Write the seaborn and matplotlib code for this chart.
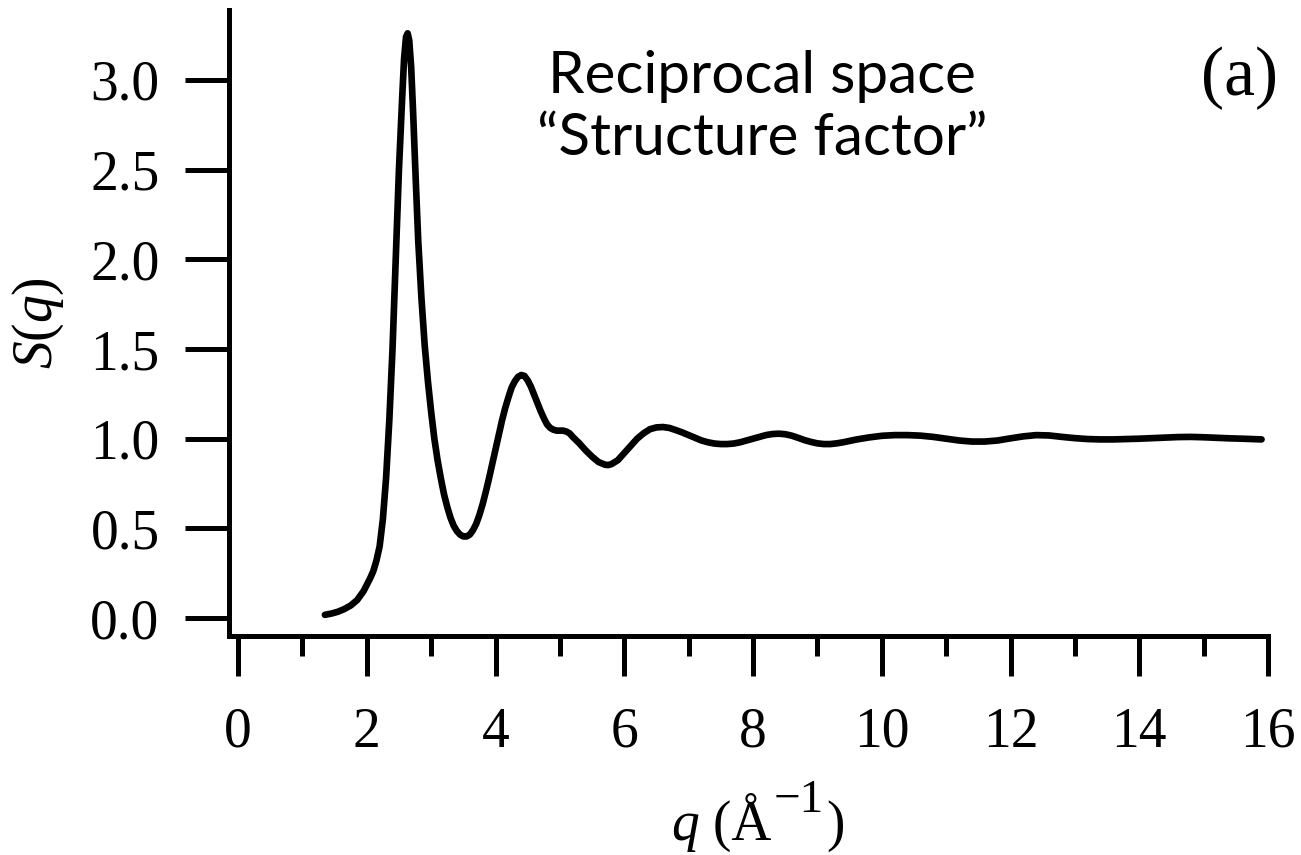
import matplotlib
matplotlib.use("Agg")
import matplotlib.pyplot as plt
import seaborn as sns
import pandas as pd
from matplotlib.ticker import MultipleLocator

# ---- data ----
q_values = [1.35, 1.45, 1.55, 1.65, 1.75, 1.85, 1.95, 2.05, 2.1, 2.15,
            2.2, 2.25, 2.3, 2.35, 2.4, 2.45, 2.5, 2.55, 2.58, 2.61, 2.635, 2.66, 2.69,
            2.72, 2.76, 2.8, 2.85, 2.9, 2.95, 3.0, 3.05, 3.1, 3.15, 3.2, 3.25, 3.3,
            3.35, 3.4, 3.45, 3.5, 3.55, 3.6, 3.65, 3.7, 3.75, 3.8, 3.85, 3.9, 3.95,
            4.0, 4.05, 4.1, 4.15, 4.2, 4.25, 4.3, 4.35, 4.4, 4.45, 4.5, 4.55, 4.6,
            4.65, 4.7, 4.75, 4.8, 4.85, 4.9, 4.95, 5.0, 5.05, 5.1, 5.15, 5.2, 5.3,
            5.4, 5.5, 5.6, 5.7, 5.75, 5.8, 5.9, 6.0, 6.1, 6.2, 6.3, 6.4, 6.5, 6.6,
            6.7, 6.8, 6.9, 7.0, 7.1, 7.2, 7.3, 7.4, 7.5, 7.6, 7.7, 7.8, 7.9, 8.0,
            8.1, 8.2, 8.3, 8.4, 8.5, 8.6, 8.7, 8.8, 8.9, 9.0, 9.1, 9.2, 9.3, 9.4,
            9.6, 9.8, 10.0, 10.2, 10.4, 10.6, 10.8, 11.0, 11.2, 11.4, 11.6, 11.8,
            12.0, 12.2, 12.4, 12.6, 12.8, 13.0, 13.2, 13.4, 13.6, 13.8, 14.0, 14.2,
            14.4, 14.6, 14.8, 15.0, 15.2, 15.4, 15.6, 15.9]
s_values = [0.018, 0.025, 0.035, 0.05, 0.07, 0.10, 0.15, 0.22, 0.26, 0.32,
            0.40, 0.55, 0.78, 1.10, 1.50, 2.00, 2.50, 2.90, 3.12, 3.24, 3.26, 3.22, 3.07,
            2.82, 2.45, 2.10, 1.78, 1.52, 1.32, 1.15, 1.00, 0.88, 0.78, 0.69, 0.62, 0.56,
            0.515, 0.485, 0.465, 0.455, 0.455, 0.465, 0.49, 0.525, 0.575, 0.635, 0.705, 0.78, 0.86,
            0.94, 1.02, 1.10, 1.17, 1.23, 1.285, 1.32, 1.345, 1.355, 1.35, 1.325, 1.29, 1.245,
            1.20, 1.155, 1.115, 1.08, 1.06, 1.05, 1.045, 1.045, 1.045, 1.04, 1.03, 1.01, 0.975,
            0.935, 0.90, 0.87, 0.855, 0.853, 0.858, 0.88, 0.92, 0.96, 1.00, 1.03, 1.053, 1.063, 1.065,
            1.06, 1.048, 1.035, 1.02, 1.005, 0.99, 0.98, 0.973, 0.97, 0.97, 0.973, 0.98, 0.99, 1.00,
            1.01, 1.02, 1.026, 1.028, 1.025, 1.017, 1.005, 0.992, 0.982, 0.974, 0.97, 0.97, 0.974, 0.98,
            0.995, 1.007, 1.016, 1.02, 1.02, 1.017, 1.01, 1.00, 0.99, 0.984, 0.984, 0.99,
            1.002, 1.013, 1.02, 1.018, 1.01, 1.003, 0.998, 0.996, 0.996, 0.998, 1.00, 1.003,
            1.006, 1.009, 1.01, 1.008, 1.005, 1.002, 1.00, 0.996]
x_ticks = [0, 2, 4, 6, 8, 10, 12, 14, 16]
y_ticks = [0.0, 0.5, 1.0, 1.5, 2.0, 2.5, 3.0]
y_tick_labels = ["0.0", "0.5", "1.0", "1.5", "2.0", "2.5", "3.0"]
title_lines = ["Reciprocal space", "\u201cStructure factor\u201d"]
panel_label = "(a)"
x_label_parts = ["q", " (Å", "\u22121", ")"]
y_label = r"$S(q)$"

df = pd.DataFrame({"q": q_values, "S": s_values})

sns.set_theme(style="white")
plt.rcParams["font.family"] = ["Liberation Serif", "DejaVu Serif"]
plt.rcParams["mathtext.fontset"] = "custom"
plt.rcParams["mathtext.rm"] = "Liberation Serif"
plt.rcParams["mathtext.it"] = "Liberation Serif:italic"
plt.rcParams["text.color"] = "black"
plt.rcParams["axes.labelcolor"] = "black"
plt.rcParams["xtick.color"] = "black"
plt.rcParams["ytick.color"] = "black"

W, H = 1301, 855
fig = plt.figure(figsize=(W / 100, H / 100), dpi=100)
ax = fig.add_axes([229 / W, 1 - 636 / H, (1268 - 229) / W, (636 - 10) / H])

sns.lineplot(data=df, x="q", y="S", ax=ax, color="black", linewidth=4.8, sort=False)

ax.set_xlim(-0.14, 16)
ax.set_ylim(-0.1, 3.39)

for side in ["top", "right"]:
    ax.spines[side].set_visible(False)
for side in ["left", "bottom"]:
    ax.spines[side].set_linewidth(3.6)
    ax.spines[side].set_color("black")

ax.set_xticks(x_ticks)
ax.set_xticklabels([str(t) for t in x_ticks])
ax.xaxis.set_minor_locator(MultipleLocator(1))
ax.set_yticks(y_ticks)
ax.set_yticklabels(y_tick_labels)

ax.tick_params(axis="x", which="major", direction="out", length=29, width=3.6,
               pad=22, labelsize=40, colors="black", bottom=True)
ax.tick_params(axis="x", which="minor", direction="out", length=14.5, width=3.6,
               bottom=True)
ax.tick_params(axis="y", which="major", direction="out", length=32, width=3.6,
               pad=18, labelsize=40, colors="black", left=True)

ax.set_xlabel("")
ax.set_ylabel(y_label, fontsize=40, color="black")
ax.yaxis.set_label_coords(-0.157, 0.5)

# x label composed of pieces so the superscript is near full size
renderer = fig.canvas.get_renderer()
x_px = 671.0
base_px = H - 840
sizes = [40, 40, 34, 40]
raises = [0, 0, 28, 0]
styles = ["italic", "normal", "normal", "normal"]
gaps = [0, 2, 3, 0]
for part, fs, rz, st, gp in zip(x_label_parts, sizes, raises, styles, gaps):
    t = fig.text(x_px / W, (base_px + rz) / H, part, fontsize=fs, fontstyle=st,
                 ha="left", va="baseline", color="black")
    bb = t.get_window_extent(renderer)
    x_px = bb.x1 + gp

fig.text(762 / W, 1 - 93 / H, title_lines[0], family=["Lato", "DejaVu Sans"],
         fontsize=42, ha="center", va="baseline", color="black")
fig.text(762 / W, 1 - 155 / H, title_lines[1], family=["Lato", "DejaVu Sans"],
         fontsize=42, ha="center", va="baseline", color="black")
fig.text(1239 / W, 1 - 95 / H, panel_label, fontsize=50, ha="center", va="baseline",
         color="black")

fig.savefig("out.png", dpi=100, facecolor="white")
